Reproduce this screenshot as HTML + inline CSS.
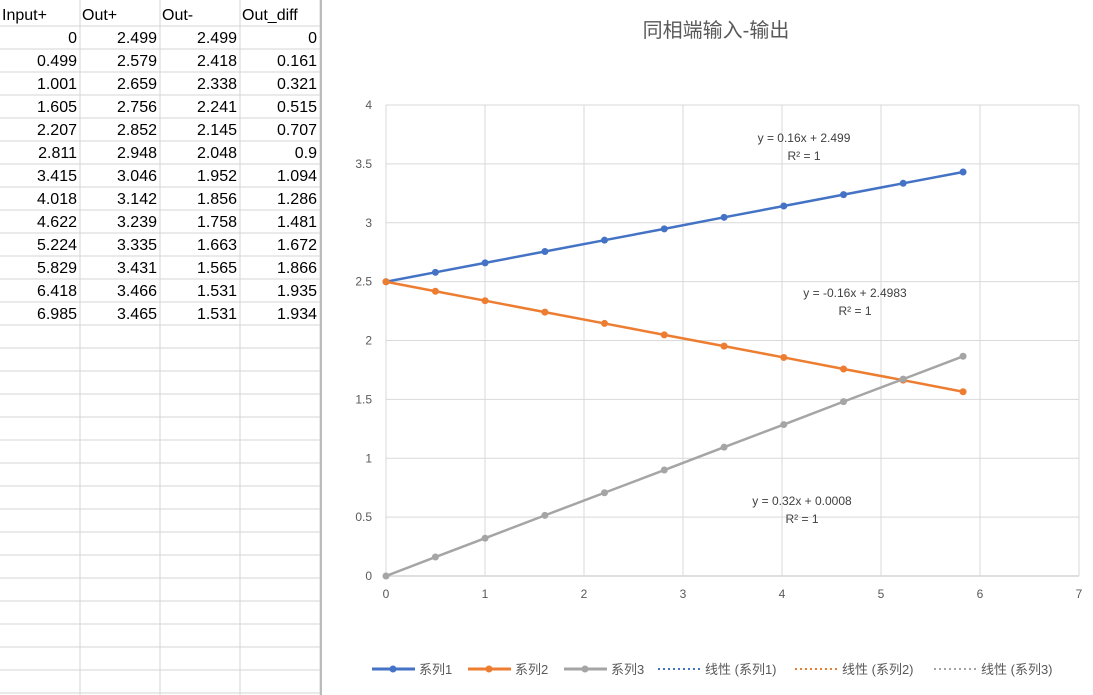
<!DOCTYPE html>
<html><head><meta charset="utf-8"><style>
body{margin:0;width:1093px;height:695px;overflow:hidden;background:#fff;font-family:"Liberation Sans","Noto Sans CJK SC",sans-serif;}
#sheet{position:absolute;left:0;top:0;width:322px;height:695px;}
#chart{position:absolute;left:0;top:0;}
</style></head><body>
<svg id="sheet" width="322" height="695"></svg>
<svg id="chart" width="1093" height="695"></svg>
<script>
const headers=["Input+","Out+","Out-","Out_diff"];
const inputs=[0,0.499,1.001,1.605,2.207,2.811,3.415,4.018,4.622,5.224,5.829,6.418,6.985];
const outPlus=[2.499,2.579,2.659,2.756,2.852,2.948,3.046,3.142,3.239,3.335,3.431,3.466,3.465];
const outMinus=[2.499,2.418,2.338,2.241,2.145,2.048,1.952,1.856,1.758,1.663,1.565,1.531,1.531];
const outDiff=[0,0.161,0.321,0.515,0.707,0.9,1.094,1.286,1.481,1.672,1.866,1.935,1.934];
const xTicks=[0,1,2,3,4,5,6,7];
const yTicks=[0,0.5,1,1.5,2,2.5,3,3.5,4];
const plotCount=11;
const NS="http://www.w3.org/2000/svg";
function mk(p,t,a,txt){const e=document.createElementNS(NS,t);for(const k in a)e.setAttribute(k,a[k]);if(txt!==undefined)e.textContent=txt;p.appendChild(e);return e;}
// sheet
const sh=document.getElementById('sheet');
const colX=[0,80,160,240,320];
for(let r=0;r<31;r++){const y=26+r*23;const l=mk(sh,'line',{x1:0,x2:320,y1:y,y2:y,stroke:'#d4d4d4'});}
for(let c=1;c<5;c++){const l=mk(sh,'line',{x1:colX[c],x2:colX[c],y1:0,y2:695,stroke:'#d4d4d4'});}
mk(sh,'line',{x1:321,x2:321,y1:0,y2:695,stroke:'#bbb','stroke-width':2});
headers.forEach((h,i)=>{const t=mk(sh,'text',{x:colX[i]+2,y:20,'font-size':16,fill:'#000'},h);});
const cols=[inputs,outPlus,outMinus,outDiff];
for(let r=0;r<inputs.length;r++){cols.forEach((arr,c)=>{const t=mk(sh,'text',{x:colX[c+1]-3,y:43+r*23,'font-size':16,fill:'#000','text-anchor':'end'},String(arr[r]));});}
// chart
const ch=document.getElementById('chart');
const X=v=>386+v*99, Y=v=>576-v*117.75;
const ttl=mk(ch,'text',{x:716,y:37,'font-size':20,fill:'#595959','text-anchor':'middle'},'同相端输入-输出');

yTicks.forEach(v=>{const l=mk(ch,'line',{x1:X(0),x2:X(7),y1:Y(v),y2:Y(v),stroke:v===0?'#bfbfbf':'#d9d9d9'});
const t=mk(ch,'text',{x:372,y:Y(v)+4,'font-size':12,fill:'#595959','text-anchor':'end'},String(v));});
xTicks.forEach(v=>{const l=mk(ch,'line',{x1:X(v),x2:X(v),y1:Y(4),y2:Y(0),stroke:'#d9d9d9'});
const t=mk(ch,'text',{x:X(v),y:598,'font-size':12,fill:'#595959','text-anchor':'middle'},String(v));});
const series=[{d:outPlus,c:'#4472c4',n:'series-1'},{d:outMinus,c:'#ed7d31',n:'series-2'},{d:outDiff,c:'#a5a5a5',n:'series-3'}];
series.forEach(s=>{const pts=[];for(let i=0;i<plotCount;i++)pts.push(X(inputs[i])+','+Y(s.d[i]));
const pl=mk(ch,'polyline',{points:pts.join(' '),fill:'none',stroke:s.c,'stroke-width':2.5});
for(let i=0;i<plotCount;i++){const c=mk(ch,'circle',{cx:X(inputs[i]),cy:Y(s.d[i]),r:3.5,fill:s.c});}});
const eqs=[["y = 0.16x + 2.499",804,142],["y = -0.16x + 2.4983",855,297],["y = 0.32x + 0.0008",802,505]];
eqs.forEach(e=>{const t=mk(ch,'text',{x:e[1],y:e[2],'font-size':12,fill:'#404040','text-anchor':'middle'},e[0]);
const r=mk(ch,'text',{x:e[1],y:e[2]+18,'font-size':12,fill:'#404040','text-anchor':'middle'},'R² = 1');});
const leg=[['系列1','#4472c4',372,0],['系列2','#ed7d31',468,0],['系列3','#a5a5a5',564,0],['线性 (系列1)','#4472c4',658,1],['线性 (系列2)','#ed7d31',795,1],['线性 (系列3)','#a5a5a5',934,1]];
leg.forEach(g=>{const y=669;const l=mk(ch,'line',{x1:g[2],x2:g[2]+43,y1:y,y2:y,stroke:g[1],'stroke-width':g[3]?2:3,'stroke-dasharray':g[3]?'2,3':'none'});
if(!g[3]){mk(ch,'circle',{cx:g[2]+21,cy:y,r:3.5,fill:g[1]});}
const t=mk(ch,'text',{x:g[2]+47,y:y+5,'font-size':13,fill:'#595959'},g[0]);});
</script>
</body></html>
